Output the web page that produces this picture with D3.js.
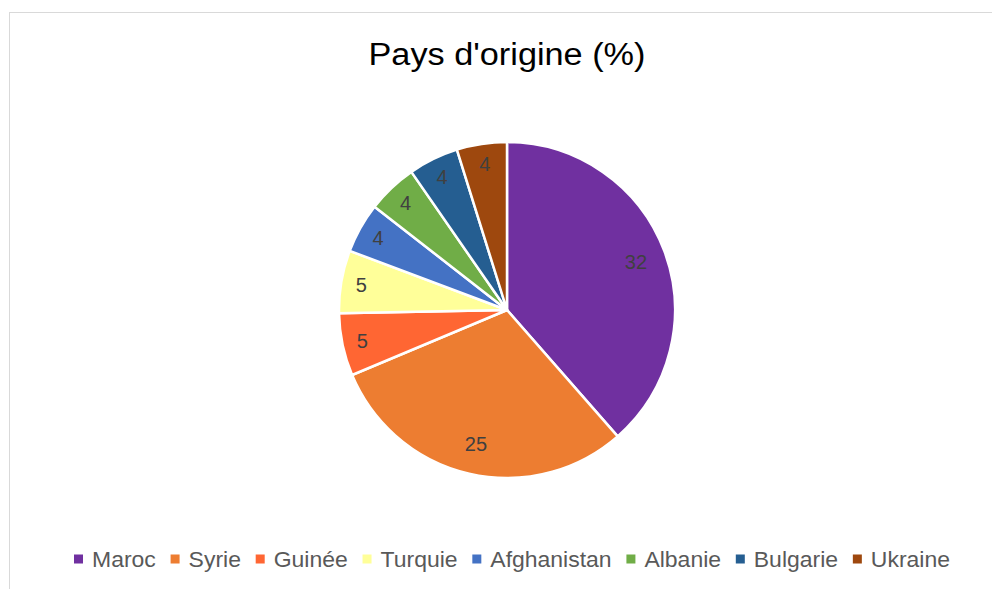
<!DOCTYPE html>
<html><head><meta charset="utf-8">
<script src="https://cdn.jsdelivr.net/npm/d3@7"></script>
<style>html,body{margin:0;padding:0;background:#fff;}svg{display:block;}</style>
</head><body>
<svg id="chart" width="992" height="589"></svg>
<script>
const categories = ["Maroc","Syrie","Guinée","Turquie","Afghanistan","Albanie","Bulgarie","Ukraine"];
const values = [32,25,5,5,4,4,4,4];
const colors = ["#7030A0","#ED7D31","#FF6633","#FFFF99","#4472C4","#70AD47","#255E91","#9E480E"];
const title = "Pays d'origine (%)";

const W = 992, H = 589;
const svg = d3.select("#chart");
const font = "'Liberation Sans', Arial, sans-serif";

svg.append("rect").attr("x",9.5).attr("y",12.5).attr("width",1000).attr("height",600)
  .attr("fill","#fff").attr("stroke","#d9d9d9").attr("stroke-width",1);

svg.append("text").attr("x",507).attr("y",65).attr("text-anchor","middle")
  .attr("font-family",font).attr("font-size",31).attr("fill","#000")
  .attr("textLength",277).attr("lengthAdjust","spacingAndGlyphs").text(title);

const cx = 507, cy = 310, R = 168;
const data = categories.map((c,i)=>({name:c,value:values[i],color:colors[i]}));
const pie = d3.pie().value(d=>d.value).sort(null);
const arcs = pie(data);
const arc = d3.arc().innerRadius(0).outerRadius(R);
const g = svg.append("g").attr("transform",`translate(${cx},${cy})`);
g.selectAll("path").data(arcs).join("path")
  .attr("d",arc).attr("fill",d=>d.data.color)
  .attr("stroke","#fff").attr("stroke-width",2.5).attr("stroke-linejoin","round");

g.selectAll("text.lbl").data(arcs).join("text").attr("class","lbl")
  .attr("transform",d=>{
    const a=(d.startAngle+d.endAngle)/2;
    const lr = d.data.value>10 ? R*0.82 : R*0.88;
    return `translate(${Math.sin(a)*lr},${-Math.cos(a)*lr})`;
  })
  .attr("text-anchor","middle").attr("dy","0.36em")
  .attr("font-family",font).attr("font-size",20).attr("fill","#404040")
  .text(d=>d.data.value);

// legend
const lg = svg.append("g");
let fs = 20;
const items = lg.selectAll("g").data(data).join("g");
items.append("rect").attr("width",9).attr("height",9).attr("y",-4.5).attr("fill",d=>d.color);
const txt = items.append("text").attr("x",18).attr("dy","0.36em")
  .attr("font-family",font).attr("font-size",fs).attr("fill","#595959").text(d=>d.name);
let sum = 0; txt.each(function(){sum += this.getComputedTextLength();});
fs = fs*629/sum; txt.attr("font-size",fs);
sum = 0; txt.each(function(){sum += this.getComputedTextLength();});
const x0 = 74, x1 = 950;
const gap = (x1 - x0 - sum - 18*data.length)/(data.length-1);
let x = 0; const xs=[];
txt.each(function(){xs.push(x); x += 18 + this.getComputedTextLength() + gap;});
items.attr("transform",(d,i)=>`translate(${x0+xs[i]},559)`);
</script>
</body></html>
